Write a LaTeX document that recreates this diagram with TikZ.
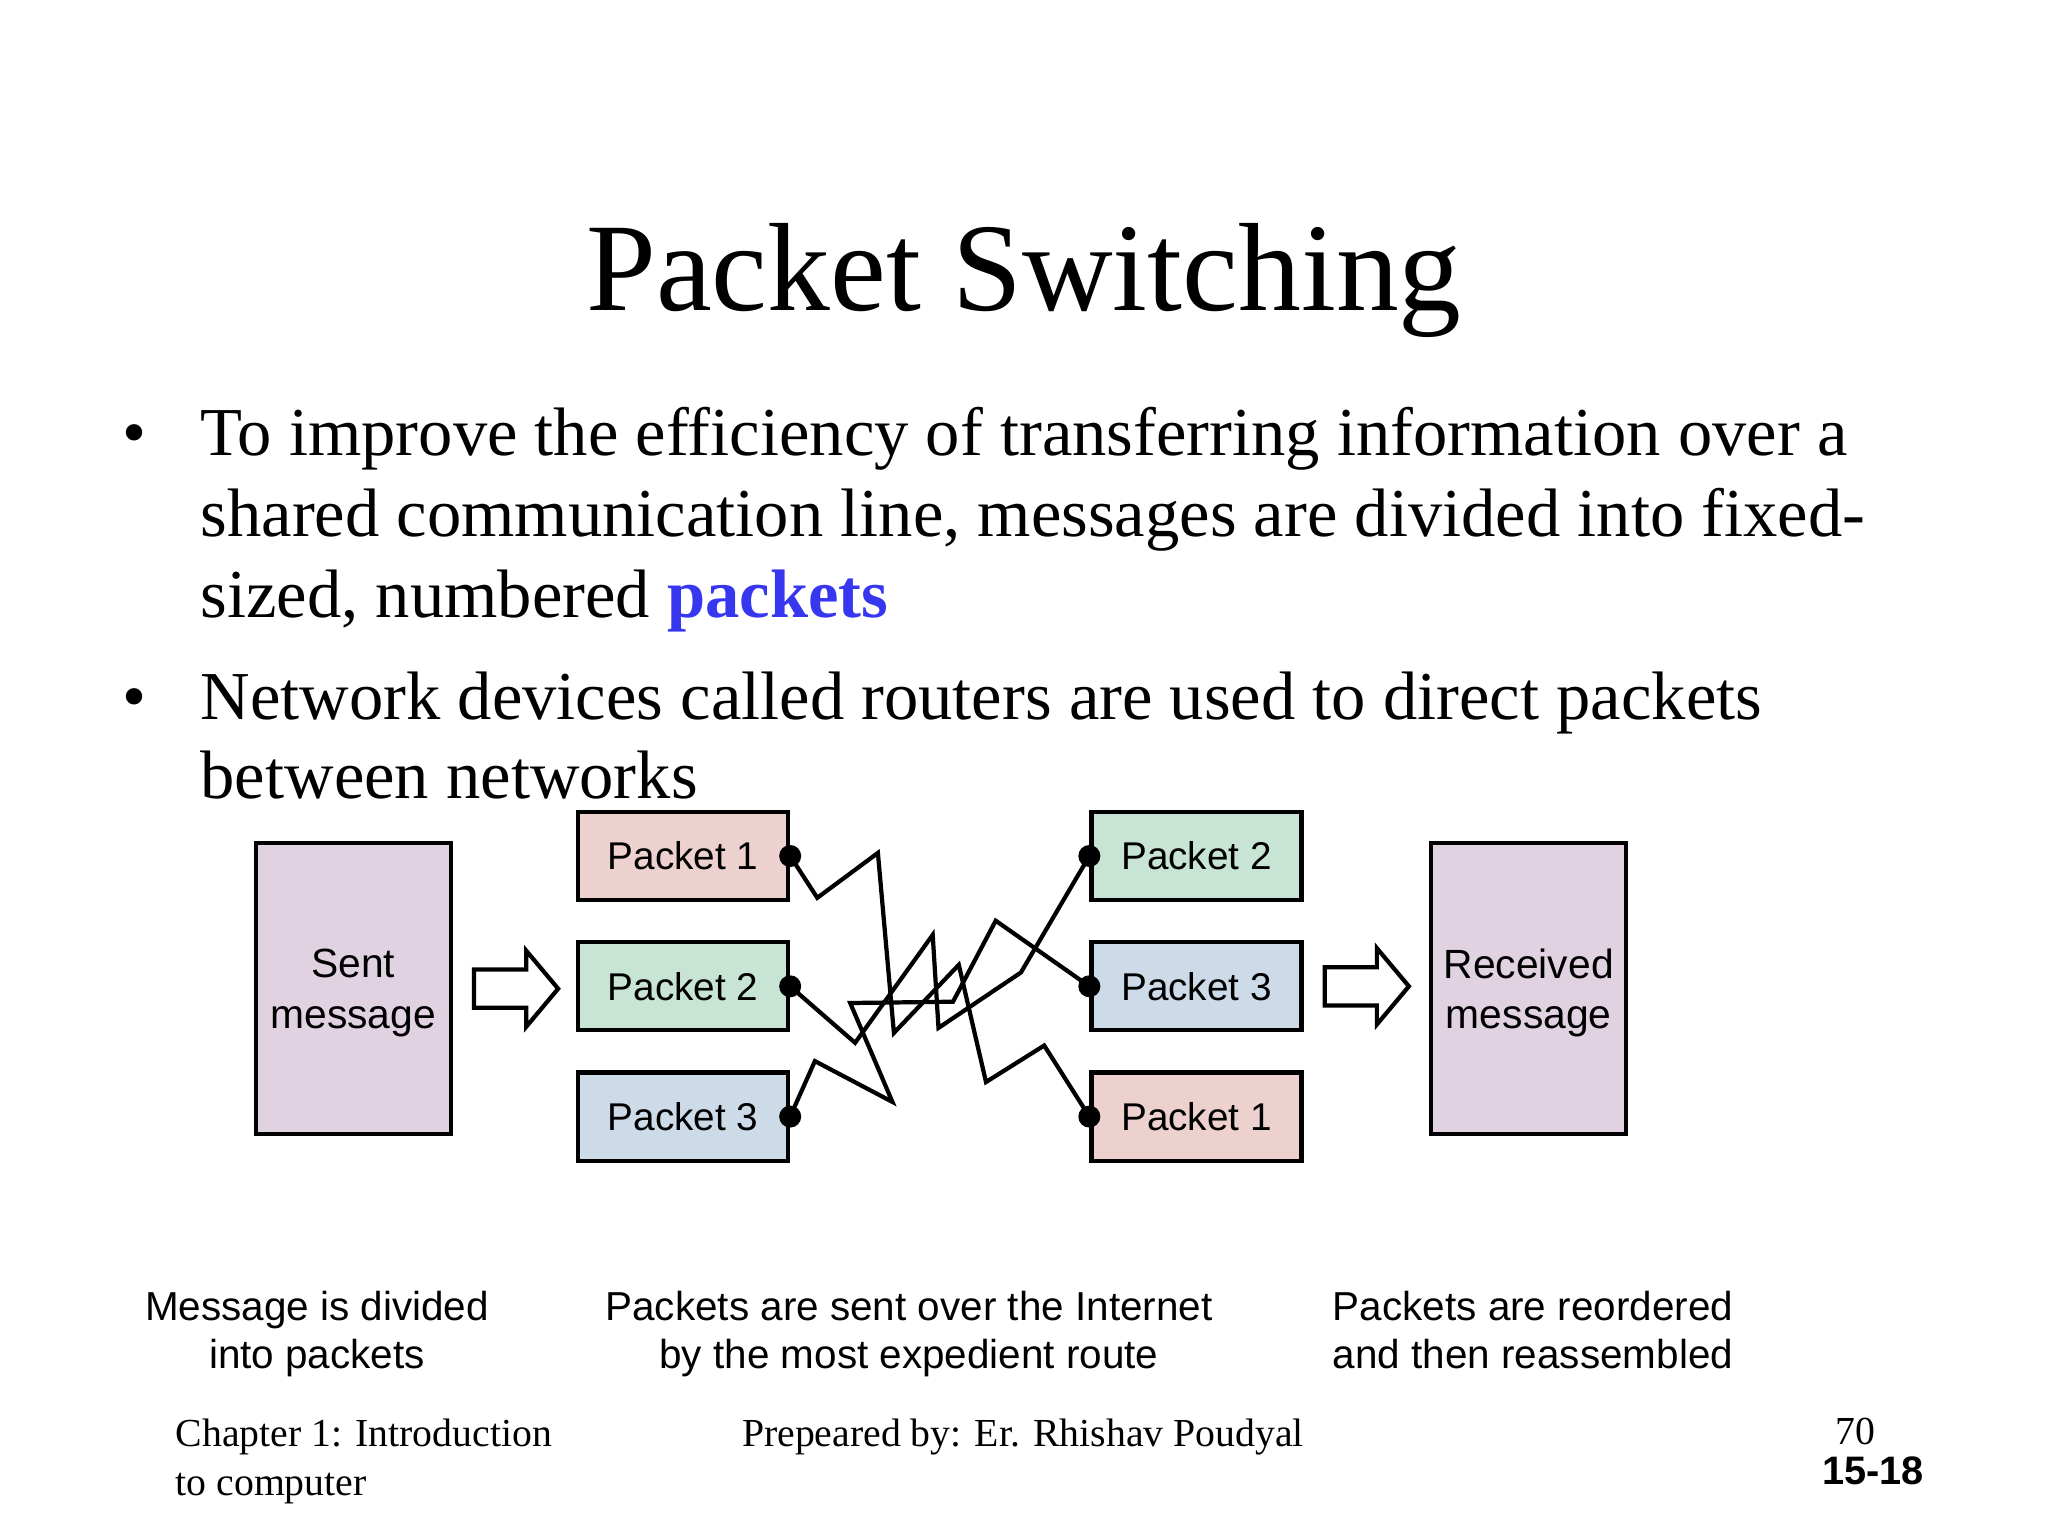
\documentclass[tikz,border=0pt]{standalone}
\usepackage{fontspec}
\setmainfont{Liberation Serif}
\newfontfamily\diagfont{Liberation Sans}
\usetikzlibrary{positioning}
\usetikzlibrary{shapes.arrows}

\definecolor{pinkbox}{RGB}{236,209,206}
\definecolor{greenbox}{RGB}{200,228,212}
\definecolor{bluebox}{RGB}{205,218,232}
\definecolor{msgbox}{RGB}{225,210,225}
\definecolor{linkblue}{RGB}{55,55,240}

\tikzset{
  pbox/.style={draw, line width=1.2pt, minimum width=2.1cm, minimum height=0.88cm, inner sep=0pt, font=\diagfont\fontsize{11}{13.5}\selectfont},
  mbox/.style={draw, line width=1.2pt, minimum width=1.95cm, minimum height=2.91cm, fill=msgbox, align=center, text depth=0pt, font=\diagfont\fontsize{11.6}{14.4}\selectfont},
  dot/.style={circle, fill=black, inner sep=0pt, minimum size=0.22cm},
  fatarrow/.style={single arrow, draw, line width=1.2pt, minimum height=0.84cm, minimum width=0.74cm, single arrow head extend=0.19cm, single arrow tip angle=100, inner xsep=0pt, inner ysep=0.17cm},
  bodyline/.style={anchor=base west, inner sep=0pt, font=\fontsize{19.5}{22.8}\selectfont},
  caption/.style={anchor=base, inner sep=0pt, font=\diagfont\fontsize{11.5}{13.8}\selectfont},
  footline/.style={anchor=base west, inner sep=0pt, font=\fontsize{11.3}{13.8}\selectfont}
}

\begin{document}
\begin{tikzpicture}[x=0.01cm, y=-0.01cm]
  \useasboundingbox[fill=white] (0,0) rectangle (2048,1536);

  \node[anchor=base, inner sep=0pt, font=\fontsize{35.7}{42}\selectfont] (title) at (1024,310) {Packet Switching};

  \node[anchor=base, inner sep=0pt, font=\fontsize{19.5}{22.8}\selectfont] (bul1) at (134.5,455) {\textbullet};
  \node[bodyline] (line1) at (200,455) {To improve the efficiency of transferring information over a};
  \node[bodyline] (line2) at (200,536) {shared communication line, messages are divided into fixed-};
  \node[bodyline] (line3) at (200,617) {sized, numbered {\bfseries\color{linkblue}packets}};
  \node[anchor=base, inner sep=0pt, font=\fontsize{19.5}{22.8}\selectfont] (bul2) at (134.5,719) {\textbullet};
  \node[bodyline] (line4) at (200,719) {Network devices called routers are used to direct packets};
  \node[bodyline] (line5) at (200,798) {between networks};

  \node[mbox] (sent) at (353.3,988.7) {Sent\\message};
  \node[fatarrow, right=0.19cm of sent] (arrin) {};
  \node[pbox, fill=pinkbox] (l1) at (683,856) {Packet 1};
  \node[pbox, fill=greenbox, below=0.38cm of l1] (l2) {Packet 2};
  \node[pbox, fill=bluebox, below=0.38cm of l2] (l3) {Packet 3};
  \node[pbox, fill=greenbox, right=2.99cm of l1] (r2) {Packet 2};
  \node[pbox, fill=bluebox, right=2.99cm of l2] (r3) {Packet 3};
  \node[pbox, fill=pinkbox, right=2.99cm of l3] (r1) {Packet 1};
  \node[fatarrow, right=0.19cm of r3] (arrout) {};
  \node[mbox] (recv) at (1528.7,988.7) {Received\\message};

  \node[dot] (dl1) at (l1.east) {};
  \node[dot] (dl2) at (l2.east) {};
  \node[dot] (dl3) at (l3.east) {};
  \node[dot] (dr1) at (r1.west) {};
  \node[dot] (dr2) at (r2.west) {};
  \node[dot] (dr3) at (r3.west) {};

  \draw[line width=1.2pt] (dl1.center) -- (817.3,897.8) -- (877.9,852.9) -- (893.9,1032.9) -- (958.8,964.8) -- (986,1082) -- (1044.2,1045.5) -- (dr1.center);
  \draw[line width=1.2pt] (dl2.center) -- (855.1,1042.8) -- (932.7,934.9) -- (938.5,1027.9) -- (1020.9,972.5) -- (dr2.center);
  \draw[line width=1.2pt] (dl3.center) -- (814.9,1061.1) -- (892.4,1101.9) -- (850.2,1003) -- (953,1001.7) -- (995.7,920.7) -- (dr3.center);

  \node[caption] (cap1a) at (317,1320) {Message is divided};
  \node[caption] (cap1b) at (317,1368) {into packets};
  \node[caption] (cap2a) at (909,1320) {Packets are sent over the Internet};
  \node[caption] (cap2b) at (909,1368) {by the most expedient route};
  \node[caption] (cap3a) at (1533,1320) {Packets are reordered};
  \node[caption] (cap3b) at (1533,1368) {and then reassembled};

  \node[footline] (foot1) at (175,1446) {Chapter 1: Introduction};
  \node[footline] (foot2) at (175,1495) {to computer};
  \node[anchor=base, inner sep=0pt, font=\fontsize{11.3}{13.8}\selectfont] (foot3) at (1023,1446) {Prepeared by: Er. Rhishav Poudyal};
  \node[anchor=base, inner sep=0pt, font=\fontsize{11.3}{13.8}\selectfont] (pageno) at (1855,1444) {70};
  \node[anchor=base, inner sep=0pt, font=\diagfont\bfseries\fontsize{11.3}{13.8}\selectfont] (slideno) at (1873,1484) {15-18};
\end{tikzpicture}
\end{document}
